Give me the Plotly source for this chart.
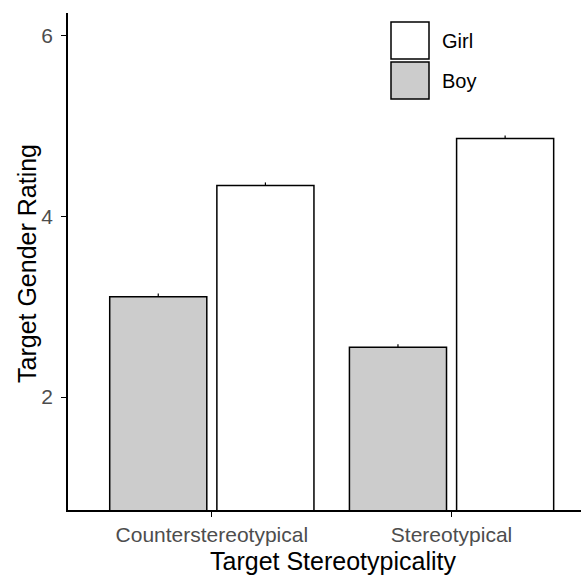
import plotly.graph_objects as go

categories = ["Counterstereotypical", "Stereotypical"]
boy_values = [3.11, 2.55]
girl_values = [4.34, 4.86]
boy_err = [0.035, 0.035]
girl_err = [0.035, 0.035]
y_ticks = [2, 4, 6]

BOY_COLOR = "#cccccc"
GIRL_COLOR = "#ffffff"
FONT = "Liberation Sans, Arial, sans-serif"

W, H = 581, 575
ML, MT, MB = 68, 13, 65
PW, PH = W - ML, H - MT - MB


def px(xv):
    return (xv - ML) / PW


def py(yv):
    return 1 - (yv - MT) / PH


fig = go.Figure()
fig.add_trace(go.Bar(
    name="Boy", x=categories, y=boy_values,
    marker=dict(color=BOY_COLOR, line=dict(color="black", width=1.5)),
    error_y=dict(type="data", array=boy_err, arrayminus=[0, 0], color="black", thickness=1.2, width=0),
    showlegend=False,
))
fig.add_trace(go.Bar(
    name="Girl", x=categories, y=girl_values,
    marker=dict(color=GIRL_COLOR, line=dict(color="black", width=1.5)),
    error_y=dict(type="data", array=girl_err, arrayminus=[0, 0], color="black", thickness=1.2, width=0),
    showlegend=False,
))

# Legend keys drawn manually (large square keys)
legend_items = [("Girl", GIRL_COLOR, 22), ("Boy", BOY_COLOR, 62)]
for lab, col, top in legend_items:
    fig.add_shape(type="rect", xref="paper", yref="paper",
                  x0=px(391), x1=px(429), y0=py(top + 37), y1=py(top),
                  fillcolor=col, line=dict(color="black", width=1.5))
    fig.add_annotation(xref="paper", yref="paper", x=px(440), y=py(top + 19),
                       text=lab, showarrow=False, xanchor="left", yanchor="middle",
                       font=dict(family=FONT, size=20, color="black"))

# Axis titles
fig.add_annotation(xref="paper", yref="paper", x=px(333), y=py(561),
                   text="Target Stereotypicality", showarrow=False,
                   xanchor="center", yanchor="middle",
                   font=dict(family=FONT, size=25, color="black"))
fig.add_annotation(xref="paper", yref="paper", x=px(27), y=py(264),
                   text="Target Gender Rating", showarrow=False, textangle=-90,
                   xanchor="center", yanchor="middle",
                   font=dict(family=FONT, size=25, color="black"))

fig.update_layout(
    width=W, height=H,
    margin=dict(l=ML, r=0, t=MT, b=MB),
    plot_bgcolor="white", paper_bgcolor="white",
    barmode="group", bargap=0.106, bargroupgap=0.094,
    font=dict(family=FONT),
    xaxis=dict(
        range=[-0.6, 1.54], showline=True, linecolor="black", linewidth=1.5,
        ticks="outside", ticklen=5, tickcolor="black", tickwidth=1.2,
        tickfont=dict(size=21, color="#4d4d4d"),
        showgrid=False, zeroline=False,
    ),
    yaxis=dict(
        range=[0.75, 6.25], showline=True, linecolor="black", linewidth=1.5,
        tickvals=y_ticks, ticks="outside", ticklen=5, tickcolor="black", tickwidth=1.2,
        tickfont=dict(size=21, color="#4d4d4d"), ticklabelstandoff=4,
        showgrid=False, zeroline=False,
    ),
)

fig.write_html(
    "out.html",
    config={"displayModeBar": False},
    post_script="document.body.style.margin='0';document.body.style.overflow='hidden';",
)
